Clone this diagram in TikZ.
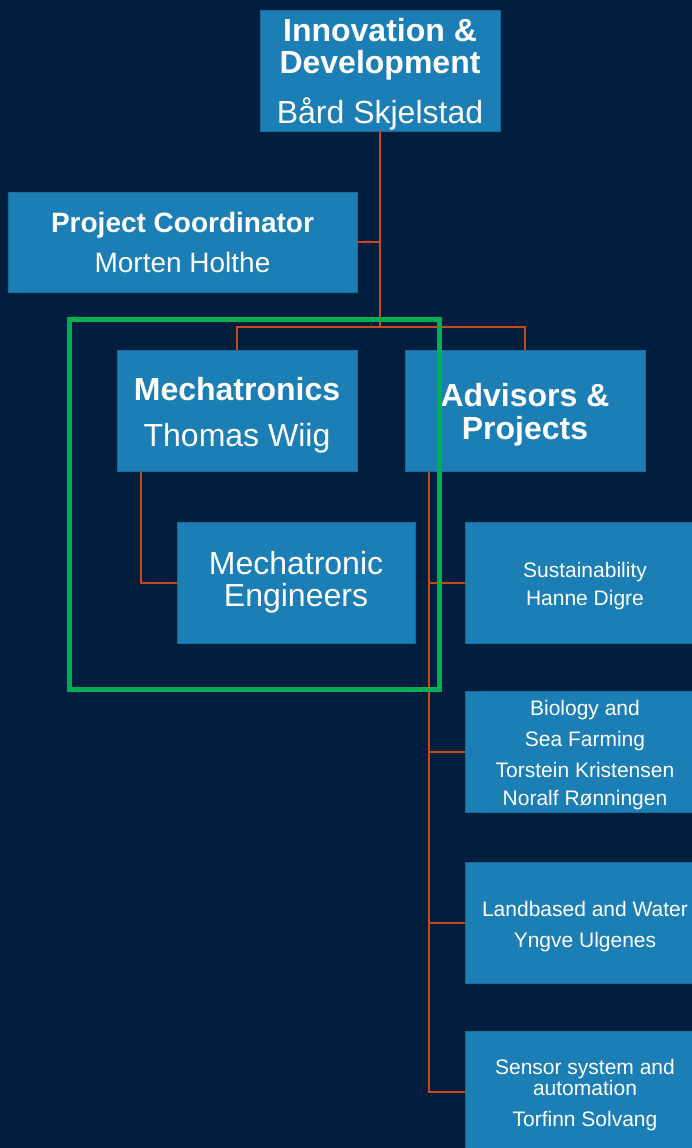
\documentclass[tikz,border=0pt]{standalone}
\usepackage{fontspec}
\setmainfont{Liberation Sans}
\usepackage{xcolor}
\definecolor{fond}{RGB}{1,30,62}
\definecolor{bleuboite}{RGB}{27,126,181}
\definecolor{orangelien}{RGB}{205,72,20}
\definecolor{vertcadre}{RGB}{0,176,80}
\newcommand{\cale}{\rule{0pt}{\dimexpr0.74em+7pt\relax}}

\begin{document}
\begin{tikzpicture}[x=1pt,y=-1pt,
		boite/.style={rectangle, fill=bleuboite, draw=bleuboite!85!black, line width=0.8pt, text=white, align=center, inner sep=0pt, minimum width=240pt, minimum height=121pt},
		grand/.style={font=\fontsize{32}{32}\selectfont},
		moyen/.style={font=\fontsize{28}{40}\selectfont},
		petit/.style={font=\fontsize{21}{31}\selectfont},
		lien/.style={draw=orangelien, line width=2pt}
		]
		
		% Le fond
		\fill[fond] (0,0) rectangle (692,1148);
		\clip (0,0) rectangle (692,1148);
		
		% Les boites
		\node[boite, grand] (ID) at (380,70.5) {\cale\textbf{Innovation \&}\\\textbf{Development}\\[16pt]Bård Skjelstad};
		\node[boite, moyen, minimum width=349pt, minimum height=100pt] (Coord) at (182.5,242) {\textbf{Project Coordinator}\\Morten Holthe};
		\node[boite, grand, font=\fontsize{32}{46}\selectfont] (Meca) at (237,411) {\cale\textbf{Mechatronics}\\Thomas Wiig};
		\node[boite, grand, font=\fontsize{32}{33}\selectfont] (Conseil) at (525,411) {\cale\textbf{Advisors \&}\\\textbf{Projects}};
		\node[boite, grand, minimum width=238pt] (MecaIng) at (296,582.5) {Mechatronic\\Engineers};
		
		\node[boite, petit] (Dur) at (585,582.5) {\cale Sustainability\\[-3pt]Hanne Digre};
		\node[boite, petit] (Bio) at (585,751.5) {\cale Biology and\\Sea Farming\\Torstein Kristensen\\[-3pt]Noralf Rønningen};
		\node[boite, petit] (Terre) at (585,922.5) {\cale Landbased and Water\\Yngve Ulgenes};
		\node[boite, petit] (Capteur) at (585,1091.5) {\cale Sensor system and\\[-10pt]automation\\Torfinn Solvang};
		
		% Les liens
		\coordinate (barre) at (380,327);
		\draw[lien] (ID.south) -- (barre);
		\draw[lien] (Coord.east) -| (ID.south);
		\draw[lien] (Meca.north) |- (barre) -| (Conseil.north);
		\draw[lien] (Meca.south west) ++(24,0) |- (MecaIng.west);
		\foreach \n in {Dur,Bio,Terre,Capteur}
		\draw[lien] (Conseil.south west) ++(24,0) |- (\n.west);
		
		% Le cadre vert
		\draw[vertcadre, line width=5pt] (69.5,319) rectangle (439,689);
	\end{tikzpicture}
\end{document}
